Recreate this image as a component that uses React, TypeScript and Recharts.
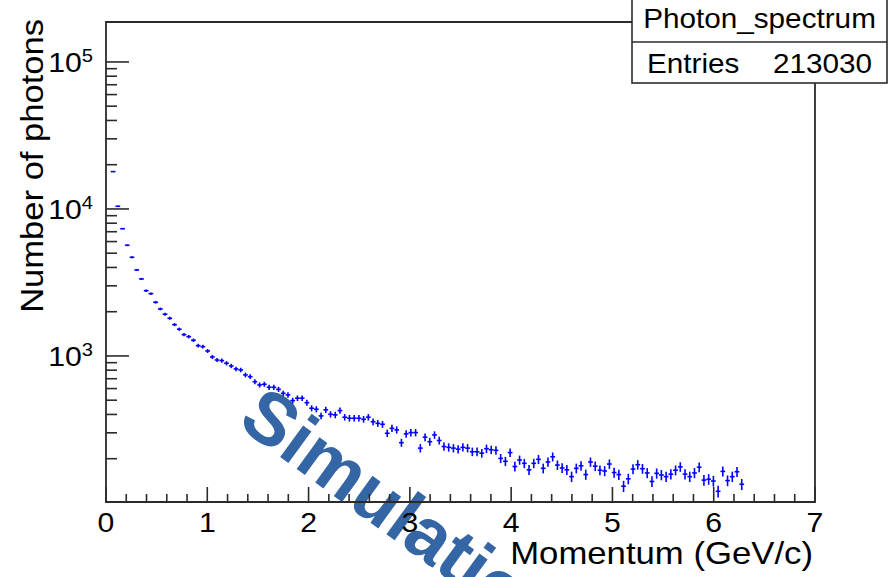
import React from "react";
import { ScatterChart, Scatter, XAxis, YAxis, ErrorBar, ReferenceArea } from "recharts";

// Histogram binning of the photon momentum spectrum
const N_BINS = 150;
const X_LOW = 0;
const X_HIGH = 7;
const FIRST_FILLED_BIN = 1;

// Bin contents, starting at bin FIRST_FILLED_BIN
const photonCounts = [
  17950, 10430, 7340, 5660, 4690, 3846, 3340, 2780, 2654, 2318,
  2088, 1922, 1804, 1633, 1520, 1397, 1353, 1279, 1175, 1157,
  1081, 985, 939, 929, 892, 855, 816, 803, 743, 723,
  668, 635, 642, 612, 612, 593, 557, 543, 497, 516,
  516, 481, 441, 434, 391, 430, 401, 397, 425, 383,
  377, 377, 377, 371, 383, 357, 348, 343, 298, 322,
  314, 257, 295, 301, 301, 236, 280, 261, 290, 266,
  242, 239, 236, 232, 239, 236, 223, 223, 218, 234,
  230, 228, 201, 192, 220, 177, 196, 186, 168, 186,
  198, 172, 190, 206, 181, 173, 168, 151, 172, 179,
  156, 190, 178, 167, 165, 184, 161, 156, 130, 146,
  170, 182, 171, 160, 140, 159, 155, 151, 157, 167,
  176, 157, 151, 160, 175, 143, 145, 141, 120, 164,
  142, 151, 163, 134,
];

const Y_MIN = 101.5;
const Y_MAX = 187000;

const yTickValues = [
  200, 300, 400, 500, 600, 700, 800, 900,
  1000, 2000, 3000, 4000, 5000, 6000, 7000, 8000, 9000,
  10000, 20000, 30000, 40000, 50000, 60000, 70000, 80000, 90000,
  100000,
];
const yDecades = [1000, 10000, 100000];

const xTickValues = [
  0, 0.2, 0.4, 0.6, 0.8, 1, 1.2, 1.4, 1.6, 1.8, 2, 2.2, 2.4, 2.6, 2.8,
  3, 3.2, 3.4, 3.6, 3.8, 4, 4.2, 4.4, 4.6, 4.8, 5, 5.2, 5.4, 5.6, 5.8,
  6, 6.2, 6.4, 6.6, 6.8, 7,
];
const xLabels = ["0", "1", "2", "3", "4", "5", "6", "7"];

const histName = "Photon_spectrum";
const entriesLabel = "Entries";
const entries = 213030;
const xTitle = "Momentum (GeV/c)";
const yTitle = "Number of photons";
const stamp = "Simulation";

const binWidth = (X_HIGH - X_LOW) / N_BINS;
const histData = photonCounts.map((n, k) => ({
  p: X_LOW + (FIRST_FILLED_BIN + k + 0.5) * binWidth,
  n,
  ep: binWidth / 2,
  en: Math.sqrt(n),
}));

const W = 889;
const H = 577;
const FONT = "'Liberation Sans', Arial, Helvetica, sans-serif";
const INK = "#2b2b2b";
const STRETCH = 1.12;
const MARKER = "#0000ff";

// Frame edges in pixels (the axes sit right on them)
const LEFT = 106;
const TOP = 22;
const RIGHT = 815;
const BOTTOM = 502;

const XTick = (props: any) => {
  const { x, payload } = props;
  const v = payload.value as number;
  const major = Math.abs(v - Math.round(v)) < 1e-6;
  const y = BOTTOM;
  return (
    <g>
      <line x1={x} y1={y} x2={x} y2={y - (major ? 15 : 8)} stroke={INK} strokeWidth={1.6} />
      {major && (
        <g transform={`translate(${x},${y + 30}) scale(${STRETCH},1)`}>
          <text x={0} y={0} textAnchor="middle" fontFamily={FONT} fontSize={27} fill="#000">
            {xLabels[Math.round(v)]}
          </text>
        </g>
      )}
    </g>
  );
};

const YTick = (props: any) => {
  const { y, payload } = props;
  const v = payload.value as number;
  const major = yDecades.includes(v);
  const exp = Math.round(Math.log10(v));
  const x = LEFT;
  return (
    <g>
      <line x1={x} y1={y} x2={x + (major ? 23 : 11)} y2={y} stroke={INK} strokeWidth={1.6} />
      {major && (
        <g transform={`translate(${x - 13},${y + 10}) scale(${STRETCH},1)`}>
          <text x={0} y={0} textAnchor="end" fontFamily={FONT} fontSize={27} fill="#000">
            <tspan>10</tspan>
            <tspan dy={-10} fontSize={18}>{exp}</tspan>
          </text>
        </g>
      )}
    </g>
  );
};

const NoMarker = () => <g />;

export default function App() {
  return (
    <div style={{ position: "absolute", left: 0, top: 0, width: W, height: H, background: "#fff" }}>
      <svg width={W} height={H} style={{ position: "absolute", left: 0, top: 0 }}>
        <text
          x={0}
          y={0}
          transform="translate(236,425) rotate(36)"
          fontFamily={FONT}
          fontWeight="bold"
          fontSize={74}
          fill="#3465a4"
        >
          {stamp}
        </text>
      </svg>
      <div style={{ position: "absolute", left: 0, top: 0 }}>
        <ScatterChart
          width={W}
          height={H}
          margin={{ top: TOP, right: W - RIGHT, bottom: H - BOTTOM - 1, left: LEFT - 1 }}
        >
          <XAxis
            dataKey="p"
            type="number"
            domain={[X_LOW, X_HIGH]}
            allowDataOverflow
            ticks={xTickValues}
            interval={0}
            height={1}
            tickSize={0}
            tickMargin={0}
            tickLine={false}
            axisLine={false}
            tick={<XTick />}
          />
          <YAxis
            dataKey="n"
            type="number"
            scale="log"
            domain={[Y_MIN, Y_MAX]}
            allowDataOverflow
            ticks={yTickValues}
            interval={0}
            width={1}
            tickSize={0}
            tickMargin={0}
            tickLine={false}
            axisLine={false}
            tick={<YTick />}
          />
          <ReferenceArea
            x1={X_LOW}
            x2={X_HIGH}
            y1={Y_MIN}
            y2={Y_MAX}
            fill="none"
            fillOpacity={0}
            stroke={INK}
            strokeWidth={1.8}
            ifOverflow="visible"
          />
          <Scatter data={histData} shape={<NoMarker />} isAnimationActive={false}>
            <ErrorBar dataKey="en" direction="y" width={0} stroke={MARKER} strokeWidth={1.6} isAnimationActive={false} />
            <ErrorBar dataKey="ep" direction="x" width={0} stroke={MARKER} strokeWidth={1.6} isAnimationActive={false} />
          </Scatter>
        </ScatterChart>
      </div>
      <svg width={W} height={H} style={{ position: "absolute", left: 0, top: 0, pointerEvents: "none" }}>
        <g transform={`translate(813,564) scale(${STRETCH},1)`}>
          <text x={0} y={0} textAnchor="end" fontFamily={FONT} fontSize={31} fill="#000">
            {xTitle}
          </text>
        </g>
        <g transform={`translate(43,19) rotate(-90) scale(1.08,1)`}>
          <text x={0} y={0} textAnchor="end" fontFamily={FONT} fontSize={32} fill="#000">
            {yTitle}
          </text>
        </g>
        <rect x={632} y={-1} width={255} height={84} fill="#fff" stroke={INK} strokeWidth={1.6} />
        <line x1={632} y1={42} x2={887} y2={42} stroke={INK} strokeWidth={1.6} />
        <g transform={`translate(759.5,28) scale(1.1,1)`}>
          <text x={0} y={0} textAnchor="middle" fontFamily={FONT} fontSize={27} fill="#000">
            {histName}
          </text>
        </g>
        <g transform={`translate(647,73) scale(1.1,1)`}>
          <text x={0} y={0} textAnchor="start" fontFamily={FONT} fontSize={27} fill="#000">
            {entriesLabel}
          </text>
        </g>
        <g transform={`translate(872,73) scale(1.1,1)`}>
          <text x={0} y={0} textAnchor="end" fontFamily={FONT} fontSize={27} fill="#000">
            {String(entries)}
          </text>
        </g>
      </svg>
    </div>
  );
}
